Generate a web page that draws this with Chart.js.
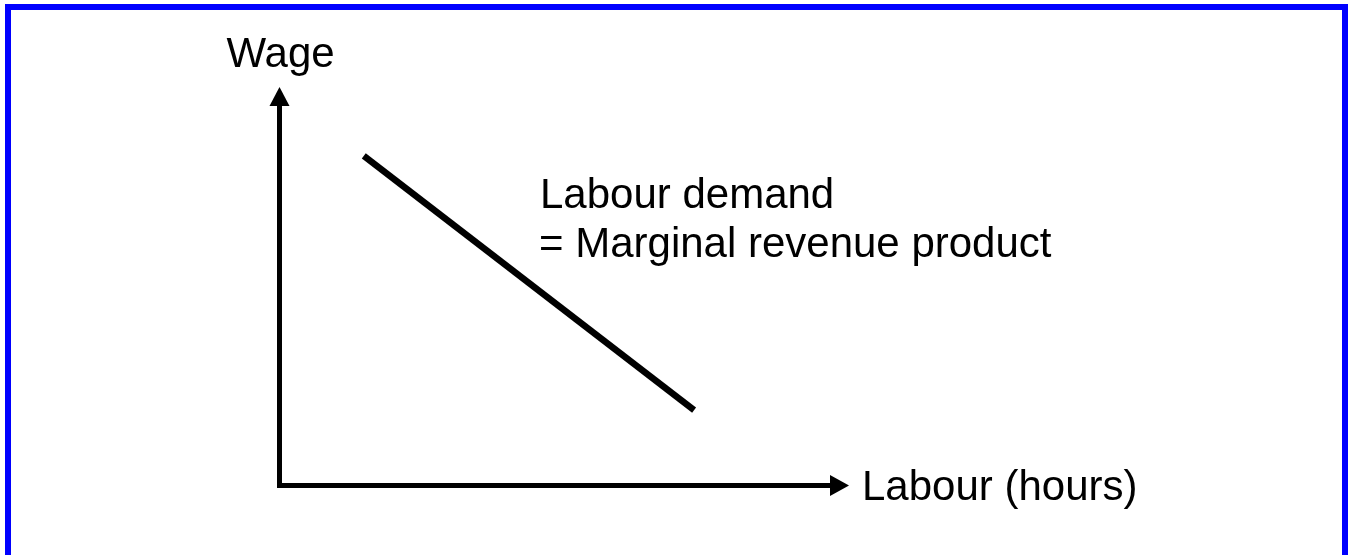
<!DOCTYPE html>
<html>
<head>
<meta charset="utf-8">
<script src="https://cdn.jsdelivr.net/npm/chart.js@4.4.1/dist/chart.umd.min.js"></script>
<style>
    html, body { margin: 0; padding: 0; background: #ffffff; overflow: hidden; }
    #marco {
        position: absolute; left: 5px; top: 4px;
        width: 1331px; height: 600px;
        border: 6px solid #0000ff;
    }
    #grafico { position: absolute; left: 0; top: 0; }
</style>
</head>
<body>
<div id="marco"></div>
<canvas id="grafico" width="1354" height="555"></canvas>
<script>
// labour demand (MRP) line, two end points
let labour = [1.48, 7.28];
let wage = [8.27, 1.89];

let xLabel = 'Labour (hours)';
let yLabel = 'Wage';
let curveLabel = ['Labour demand', '= Marginal revenue product'];

let fuente = '42px "Liberation Sans", Arial, sans-serif';

let puntos = [];
labour.forEach(function(x, i) {
    puntos.push({ x: x, y: wage[i] });
});

// axes with arrow heads and the text labels
const ejesPlugin = {
    id: 'ejes',
    afterDraw: function(chart) {
        let ctx = chart.ctx;
        let sx = chart.scales.x;
        let sy = chart.scales.y;
        let x0 = sx.getPixelForValue(0);
        let y0 = sy.getPixelForValue(0);
        let xTop = sy.getPixelForValue(sy.max);
        let xEnd = sx.getPixelForValue(sx.max);
        let head = 19;
        let half = 10;

        ctx.save();
        ctx.strokeStyle = '#000';
        ctx.fillStyle = '#000';
        ctx.lineWidth = 5;
        ctx.lineCap = 'butt';

        ctx.beginPath();
        ctx.moveTo(x0, y0 + 2.5);
        ctx.lineTo(x0, xTop + head);
        ctx.moveTo(x0 - 2.5, y0);
        ctx.lineTo(xEnd - head, y0);
        ctx.stroke();

        ctx.beginPath();
        ctx.moveTo(x0, xTop);
        ctx.lineTo(x0 - half, xTop + head);
        ctx.lineTo(x0 + half, xTop + head);
        ctx.closePath();
        ctx.fill();

        ctx.beginPath();
        ctx.moveTo(xEnd, y0);
        ctx.lineTo(xEnd - head, y0 - half - 0.5);
        ctx.lineTo(xEnd - head, y0 + half + 0.5);
        ctx.closePath();
        ctx.fill();

        ctx.font = fuente;
        ctx.textAlign = 'left';
        ctx.textBaseline = 'alphabetic';
        ctx.fillText(yLabel, x0 - 53, xTop - 20);
        ctx.fillText(xLabel, xEnd + 13, y0 + 14);
        ctx.fillText(curveLabel[0], 540, 208);
        ctx.fillText(curveLabel[1], 539, 257);
        ctx.restore();
    }
};

let chart = new Chart(document.getElementById('grafico'), {
    type: 'scatter',
    data: {
        datasets: [{
            data: puntos,
            showLine: true,
            borderColor: '#000000',
            borderWidth: 6.5,
            borderCapStyle: 'butt',
            pointRadius: 0,
            pointHoverRadius: 0
        }]
    },
    options: {
        responsive: false,
        animation: false,
        events: [],
        layout: {
            padding: { left: 279.5, top: 87, right: 505, bottom: 69.5 }
        },
        plugins: {
            legend: { display: false },
            tooltip: { enabled: false }
        },
        scales: {
            x: { type: 'linear', min: 0, max: 10, display: false },
            y: { type: 'linear', min: 0, max: 10, display: false }
        }
    },
    plugins: [ejesPlugin]
});
</script>
</body>
</html>
